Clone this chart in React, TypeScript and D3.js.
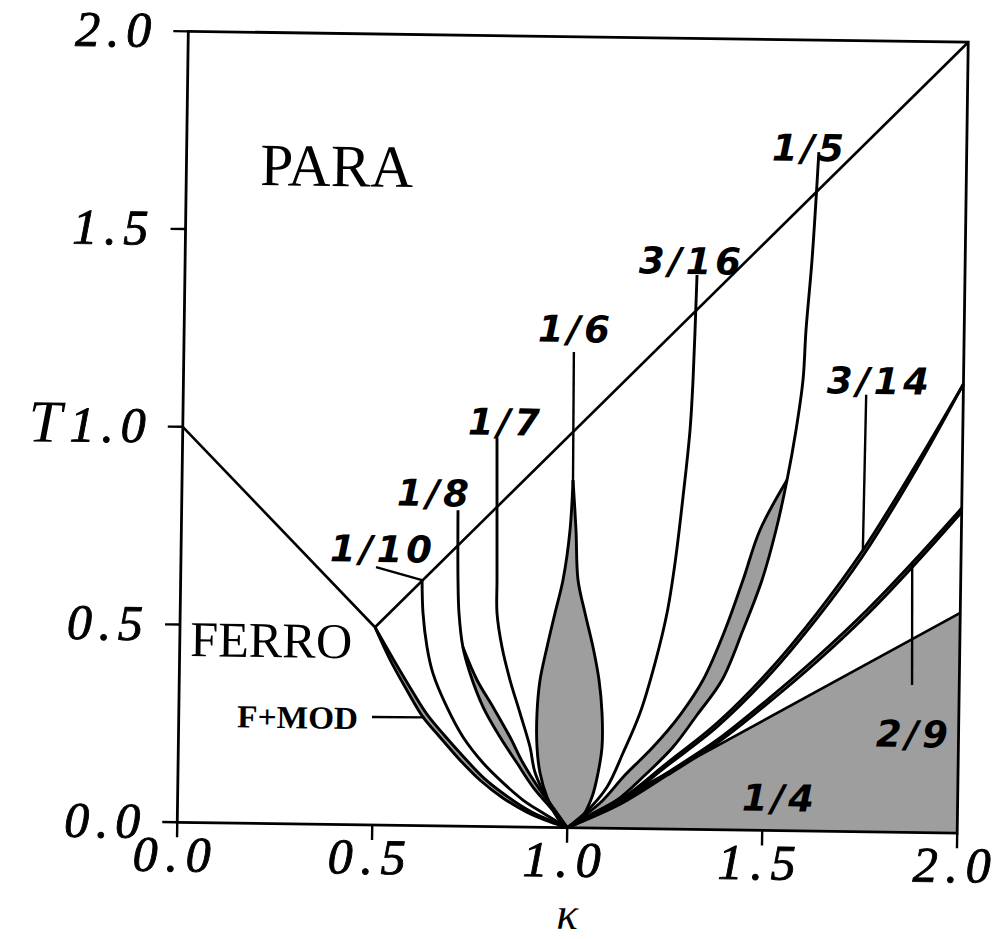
import React from 'react';
import * as d3 from 'd3';

type P = [number, number];

// axis ticks
const xTicks = [0, 0.5, 1, 1.5, 2];
const yTicks = [0, 0.5, 1, 1.5, 2];
const tickLabels = ['0.0', '0.5', '1.0', '1.5', '2.0'];

// straight phase boundaries
const paraFerro: P[] = [[0, 1], [0.5, 0.5]];
const paraMod: P[] = [[0.5, 0.5], [2, 2]];
const antiphase: P[] = [[1, 0], [2, 0.557]];
const antiphaseRegion: P[] = [[1, 0], [2, 0.557], [2, 0]];

// ferro / F+MOD boundaries
const ferroEdge: P[] = [[0.5, 0.5], [0.54, 0.418], [0.584, 0.342], [0.626, 0.275], [0.67, 0.225], [0.723, 0.167], [0.775, 0.117], [0.834, 0.073], [0.896, 0.038], [0.956, 0.014], [1, 0]];
const fmodEdge: P[] = [[0.5, 0.5], [0.548, 0.42], [0.594, 0.346], [0.637, 0.281], [0.681, 0.23], [0.735, 0.172], [0.786, 0.121], [0.845, 0.077], [0.905, 0.04], [0.962, 0.015], [1, 0]];

// q = 1/10
const q1_10: P[] = [[0.619, 0.621], [0.6225, 0.538], [0.634, 0.452], [0.65, 0.386], [0.687, 0.301], [0.7295, 0.2256], [0.782, 0.1605], [0.834, 0.111], [0.8856, 0.0684], [0.9374, 0.0362], [1, 0]];
const lead1_10: P[] = [[0.5004, 0.652], [0.619, 0.621]];

// q = 1/8
const q1_8a: P[] = [[0.7086, 0.799], [0.7111, 0.622], [0.7148, 0.539], [0.726, 0.453], [0.745, 0.3876], [0.78, 0.302], [0.8244, 0.2269], [0.869, 0.1617], [0.9108, 0.1016], [0.955, 0.0517], [1, 0]];
const q1_8b: P[] = [[0.726, 0.453], [0.7634, 0.3702], [0.8054, 0.3025], [0.85, 0.2272], [0.8843, 0.1619], [0.9288, 0.0943], [0.9733, 0.0367], [1, 0]];

// q = 1/7
const q1_7: P[] = [[0.806, 0.983], [0.8111, 0.6237], [0.8123, 0.5403], [0.8263, 0.4545], [0.848, 0.3714], [0.8748, 0.2883], [0.9017, 0.2027], [0.9154, 0.1386], [0.9497, 0.0693], [1, 0]];

// q = 1/6 lens
const lead1_6: P[] = [[1.0, 1.203], [1.0024, 0.879]];
const lens1_6L: P[] = [[1.0024, 0.879], [0.9965, 0.7527], [0.9803, 0.626], [0.961, 0.5424], [0.9417, 0.456], [0.925, 0.3724], [0.9184, 0.2889], [0.9196, 0.2029], [0.9283, 0.1373], [0.947, 0.0768], [0.9734, 0.0266], [1, 0]];
const lens1_6R: P[] = [[1.0024, 0.879], [1.0118, 0.753], [1.0188, 0.6266], [1.0379, 0.5434], [1.0596, 0.4577], [1.0762, 0.3745], [1.0851, 0.2912], [1.0863, 0.2052], [1.077, 0.1393], [1.0624, 0.0784], [1.0375, 0.0275], [1, 0]];

// q = 3/16
const q3_16: P[] = [[1.313, 1.402], [1.3065, 1.1364], [1.3006, 1.0098], [1.285, 0.8402], [1.2669, 0.673], [1.2482, 0.5463], [1.2192, 0.4195], [1.1825, 0.2925], [1.1404, 0.1908], [1.1006, 0.1042], [1.0527, 0.0454], [1, 0]];

// q = 1/5 band
const q1_5a: P[] = [[1.621, 1.717], [1.6073, 1.444], [1.5944, 1.2668], [1.5885, 1.1403], [1.5724, 1.0136], [1.5511, 0.8869], [1.5247, 0.76], [1.4906, 0.6331], [1.4436, 0.506], [1.3916, 0.3789], [1.3287, 0.2895], [1.2684, 0.2077], [1.1976, 0.1359], [1.1267, 0.0717], [1.058, 0.0329], [1, 0]];
const q1_5b: P[] = [[1.5511, 0.8869], [1.4836, 0.7595], [1.4418, 0.6324], [1.3975, 0.5054], [1.3429, 0.3782], [1.2852, 0.2889], [1.2171, 0.207], [1.1463, 0.1352], [1.0832, 0.0635], [1, 0]];

// q = 3/14 band
const q3_14a: P[] = [[2.0, 1.136], [1.8838, 0.9344], [1.7485, 0.7125], [1.6328, 0.5516], [1.5067, 0.3982], [1.3803, 0.27], [1.2535, 0.167], [1.1344, 0.0718], [1, 0]];
const q3_14b: P[] = [[2.0, 1.136], [1.8838, 0.922], [1.7485, 0.698], [1.6328, 0.538], [1.5067, 0.386], [1.3803, 0.26], [1.2535, 0.16], [1.1344, 0.068], [1, 0]];
const lead3_14: P[] = [[1.751, 1.105], [1.748, 0.7125]];

// q = 2/9 band
const q2_9a: P[] = [[2.0, 0.822], [1.8746, 0.6814], [1.7609, 0.561], [1.6344, 0.4404], [1.5077, 0.3299], [1.3809, 0.227], [1.2539, 0.1418], [1.1345, 0.0643], [1, 0]];
const q2_9b: P[] = [[2.0, 0.812], [1.8746, 0.67], [1.7609, 0.549], [1.6344, 0.429], [1.5077, 0.32], [1.3809, 0.219], [1.2539, 0.136], [1.1345, 0.061], [1, 0]];
const lead2_9: P[] = [[1.875, 0.681], [1.879, 0.373]];

const fmodLead: P[] = [[0.4955, 0.273], [0.63, 0.274]];

// phase labels
const phaseNames = ['PARA', 'FERRO', 'F+MOD'];
const fracNames = ['1/10', '1/8', '1/7', '1/6', '3/16', '1/5', '3/14', '2/9', '1/4'];
const fracAt: P[] = [[0.5125, 0.7006], [0.6438, 0.844], [0.8233, 1.026], [0.9995, 1.2636], [1.2945, 1.4397], [1.593, 1.7296], [1.7808, 1.1429], [1.8807, 0.2516], [1.5394, 0.085]];

const W = 994;
const H = 939;

export default function App() {
  const x = d3.scaleLinear().domain([0, 2]).range([182.75, 962.75]);
  const y = d3.scaleLinear().domain([0, 2]).range([827.75, 36.75]);
  const smooth = d3.line<P>().x(d => x(d[0])).y(d => y(d[1])).curve(d3.curveCatmullRom.alpha(0.5));
  const straight = d3.line<P>().x(d => x(d[0])).y(d => y(d[1]));
  const band = (a: P[], b: P[]) => (smooth(a) || '') + (smooth([...b].reverse()) || '').replace(/^M/, 'L') + 'Z';

  const gray = '#9e9e9e';
  const sw = 2.9;
  const curves = [ferroEdge, fmodEdge, q1_10, q1_8a, q1_8b, q1_7, lens1_6L, lens1_6R, q3_16, q1_5a, q1_5b, q3_14a, q3_14b, q2_9a, q2_9b];
  const leads = [lead1_10, lead1_6, lead3_14, lead2_9, fmodLead];
  const serif = '"Liberation Serif", "DejaVu Serif", serif';
  const sans = '"DejaVu Sans", sans-serif';

  return (
    <svg width={W} height={H} style={{ position: 'absolute', left: 0, top: 0, background: '#fff' }}>
      <rect x={0} y={0} width={W} height={H} fill="#fff" />
      <g transform="rotate(0.8, 572.75, 432.25)">
        {/* shaded regions */}
        <path d={straight(antiphaseRegion) + 'Z'} fill={gray} />
        <path d={band(lens1_6L, lens1_6R)} fill={gray} />
        <path d={band(q1_5a.slice(5), q1_5b)} fill={gray} />
        <path d={band(q1_8a.slice(3), q1_8b)} fill={gray} />
        <path d={band(ferroEdge, fmodEdge)} fill={gray} />
        <path d={band(q3_14a, q3_14b)} fill={gray} />
        <path d={band(q2_9a, q2_9b)} fill={gray} />

        {/* frame */}
        <rect x={x(0)} y={y(2)} width={x(2) - x(0)} height={y(0) - y(2)} fill="none" stroke="#000" strokeWidth={2.8} />
        {yTicks.map(v => (
          <line key={'yt' + v} x1={x(0) - 15} x2={x(0)} y1={y(v)} y2={y(v)} stroke="#000" strokeWidth={2.4} />
        ))}
        {xTicks.map(v => (
          <line key={'xt' + v} x1={x(v)} x2={x(v)} y1={y(0)} y2={y(0) + 15} stroke="#000" strokeWidth={2.4} />
        ))}
        {yTicks.map((v, i) => (
          <text key={'yl' + v} x={x(0) - 37} y={y(v) + 16} textAnchor="end" fontFamily={serif} fontStyle="italic" fontSize={50} stroke="#000" strokeWidth={0.9} textLength={76} lengthAdjust="spacing">{tickLabels[i]}</text>
        ))}
        {xTicks.map((v, i) => (
          <text key={'xl' + v} x={x(v) - 5} y={y(0) + 49} textAnchor="middle" fontFamily={serif} fontStyle="italic" fontSize={50} stroke="#000" strokeWidth={0.9} textLength={78} lengthAdjust="spacing">{tickLabels[i]}</text>
        ))}
        <text x={45} y={449} textAnchor="middle" fontFamily={serif} fontStyle="italic" fontSize={60}>T</text>
        <text x={574} y={929} textAnchor="middle" fontFamily={serif} fontStyle="italic" fontSize={45}>κ</text>

        {/* boundaries */}
        <path d={straight(paraFerro) || ''} fill="none" stroke="#000" strokeWidth={2.6} />
        <path d={straight(paraMod) || ''} fill="none" stroke="#000" strokeWidth={2.6} />
        <path d={straight(antiphase) || ''} fill="none" stroke="#000" strokeWidth={2.6} />
        {curves.map((c, i) => (
          <path key={'c' + i} d={smooth(c) || ''} fill="none" stroke="#000" strokeWidth={sw} strokeLinejoin="round" />
        ))}
        {leads.map((c, i) => (
          <path key={'l' + i} d={straight(c) || ''} fill="none" stroke="#000" strokeWidth={2.4} />
        ))}

        {/* labels */}
        <text x={x(0.1892)} y={y(1.614)} fontFamily={serif} fontSize={60} textLength={153} lengthAdjust="spacingAndGlyphs">{phaseNames[0]}</text>
        <text x={x(0.0266)} y={y(0.4207)} fontFamily={serif} fontSize={50} textLength={162} lengthAdjust="spacingAndGlyphs">{phaseNames[1]}</text>
        <text x={x(0.46)} y={y(0.2421)} textAnchor="end" fontFamily={serif} fontWeight="bold" fontSize={32} textLength={121} lengthAdjust="spacingAndGlyphs">{phaseNames[2]}</text>
        {fracNames.map((t, i) => (
          <text key={'f' + i} x={x(fracAt[i][0])} y={y(fracAt[i][1]) + 14} textAnchor="middle" fontFamily={sans} fontStyle="italic" fontWeight="bold" fontSize={37} textLength={t.length > 3 ? 102 : 72} lengthAdjust="spacing">{t}</text>
        ))}
      </g>
    </svg>
  );
}
